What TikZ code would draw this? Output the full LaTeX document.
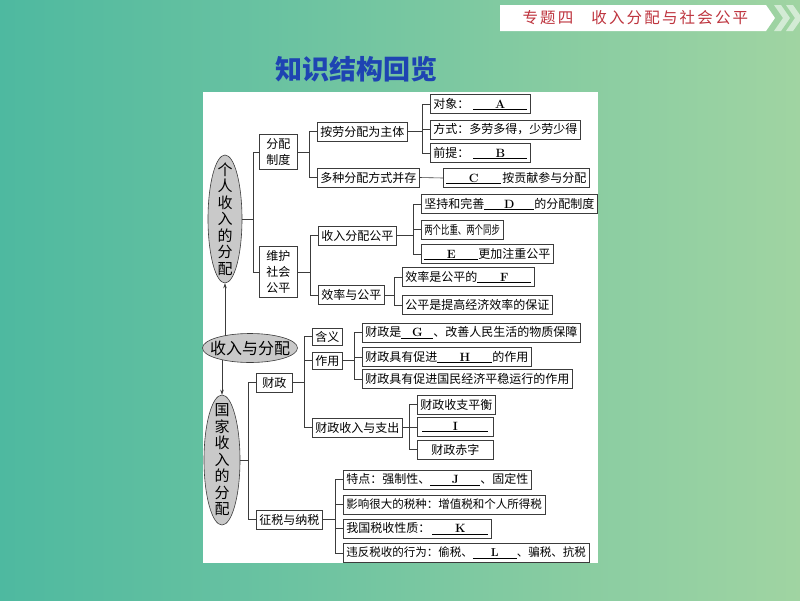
\documentclass[tikz,border=0pt]{standalone}
\usepackage{fontspec}
\usepackage{graphicx}
\newfontfamily\cjk{Noto Sans CJK SC}
\usetikzlibrary{shapes.geometric,arrows.meta}

\definecolor{bgleft}{RGB}{78,185,160}
\definecolor{bgright}{RGB}{160,212,162}
\definecolor{topicred}{RGB}{190,52,62}
\definecolor{titleblue}{RGB}{30,68,178}
\definecolor{linegray}{RGB}{60,60,60}

% underlined blank with its letter
\newcommand{\fillin}[2]{\underline{\makebox[#1]{\normalfont\bfseries #2}}}

\tikzset{
  box/.style={draw=linegray, line width=0.6pt, fill=white, anchor=west,
    inner xsep=3pt, inner ysep=0pt, minimum height=19pt,
    font=\cjk\fontsize{12}{16}\selectfont},
  oval/.style={ellipse, draw=linegray, line width=0.6pt, fill=gray!42, inner sep=0pt},
  ovaltext/.style={align=center, font=\cjk\fontsize{15}{16.5}\selectfont},
  link/.style={draw=linegray, line width=0.6pt},
}

\begin{document}
\begin{tikzpicture}[x=1pt,y=-1pt]
        \useasboundingbox (0,0) rectangle (800,600);
        \shade[left color=bgleft, right color=bgright] (0,0) rectangle (800,600);

        % banner
        \fill[white] (500,5) -- (766,5) -- (775,18) -- (766,31) -- (500,31) -- cycle;
        \fill[white, opacity=0.55] (774,5) -- (781,5) -- (790,18) -- (781,31) -- (774,31) -- (783,18) -- cycle;
        \fill[white, opacity=0.55] (786,5) -- (793,5) -- (800,15) -- (800,21) -- (793,31) -- (786,31) -- (795,18) -- cycle;
        \node[anchor=west, text=topicred, font=\cjk\fontsize{15.5}{18}\selectfont] (topic) at (519,18)
                {\addfontfeatures{LetterSpace=14}专题四\hspace{18pt}收入分配与社会公平};

        \node[text=titleblue, font=\cjk\bfseries\fontsize{27}{30}\selectfont] (title) at (356,69) {知识结构回览};

        \fill[white] (203,92) rectangle (598,563);

        % ovals
        \node[oval, minimum width=34pt, minimum height=128pt,
              label={[ovaltext]center:个\\人\\收\\入\\的\\分\\配}] (grsr) at (225,219) {};
        \node[oval, minimum width=95pt, minimum height=29pt,
              label={[ovaltext, font=\cjk\fontsize{16}{18}\selectfont]center:收入与分配}] (srfp) at (250,348) {};
        \node[oval, minimum width=36pt, minimum height=130pt,
              label={[ovaltext]center:国\\家\\收\\入\\的\\分\\配}] (gjsr) at (222,460) {};

        \draw[link, -{Stealth[length=5pt, width=3.5pt]}] ([yshift=-3pt]grsr.south |- srfp.north) -- (grsr.south);
        \draw[link, -{Stealth[length=5pt, width=3.5pt]}] ([yshift=3pt]gjsr.north |- srfp.south) -- (gjsr.north);

        % personal income
        \node[box, minimum width=38pt, minimum height=35pt, align=center] (fpzd) at (259,152) {分配\\制度};
        \node[box, minimum width=38pt, minimum height=51pt, align=center] (whgp) at (259,272) {维护\\社会\\公平};
        \node[box] (abfp) at (317,131.5) {按劳分配为主体};
        \node[box] (dzfp) at (317,177.5) {多种分配方式并存};
        \node[box] (dx) at (430,104) {对象：\hspace{4pt}\fillin{54pt}{A}};
        \node[box] (fs) at (430,129.5) {方式：多劳多得，少劳少得};
        \node[box] (qt) at (430,153) {前提：\hspace{4pt}\fillin{54pt}{B}};
        \node[box] (gx) at (443,178) {\fillin{55pt}{C}\hspace{1pt}按贡献参与分配};
        \node[box] (srgp) at (318,235.5) {收入分配公平};
        \node[box] (xlgp) at (318,295) {效率与公平};
        \node[box] (jc) at (421,204) {坚持和完善\fillin{50pt}{D}的分配制度};
        \node[box] (lg) at (421,229.5) {\scalebox{0.7}[1]{两个比重、两个同步}};
        \node[box] (zz) at (421,254) {\fillin{54pt}{E}更加注重公平};
        \node[box] (xs) at (402,277) {效率是公平的\fillin{54pt}{F}};
        \node[box] (bz) at (402,305) {公平是提高经济效率的保证};

        \foreach \t in {fpzd,whgp} \draw[link] (grsr.east) -| ([xshift=-6pt]\t.west) -- (\t.west);
        \foreach \t in {abfp,dzfp} \draw[link] (fpzd.east) -| ([xshift=-8pt]\t.west) -- (\t.west);
        \foreach \t in {dx,fs,qt} \draw[link] (abfp.east) -| ([xshift=-8pt]\t.west) -- (\t.west);
        \draw[link] (dzfp.east) -- (gx.west);
        \foreach \t in {srgp,xlgp} \draw[link] (whgp.east) -| ([xshift=-8pt]\t.west) -- (\t.west);
        \foreach \t in {jc,lg,zz} \draw[link] (srgp.east) -| ([xshift=-8pt]\t.west) -- (\t.west);
        \foreach \t in {xs,bz} \draw[link] (xlgp.east) -| ([xshift=-8pt]\t.west) -- (\t.west);

        % state income
        \node[box, minimum width=36pt] (cz) at (256,382.5) {财政};
        \node[box] (zsns) at (256,519.5) {征税与纳税};
        \node[box, minimum height=17pt] (hy) at (312,336.5) {含义};
        \node[box, minimum height=17pt] (zy) at (312,360.5) {作用};
        \node[box] (szzc) at (312,427.5) {财政收入与支出};
        \node[box] (wz) at (362,332.5) {财政是\fillin{32pt}{G}、改善人民生活的物质保障};
        \node[box] (hz) at (362,357) {财政具有促进\fillin{55pt}{H}的作用};
        \node[box] (pw) at (362,379) {财政具有促进国民经济平稳运行的作用};
        \node[box, minimum width=76pt] (ph) at (417,404.5) {财政收支平衡};
        \node[box, minimum width=76pt] (ii) at (417,427) {\fillin{66pt}{I}};
        \node[box, minimum width=76pt] (cz2) at (417,449.5) {财政赤字};
        \node[box] (td) at (343,479.5) {特点：强制性、\fillin{50pt}{J}、固定性};
        \node[box, font=\cjk\fontsize{11.5}{16}\selectfont] (sz) at (343,504.5) {影响很大的税种：增值税和个人所得税};
        \node[box] (xz) at (343,528.5) {我国税收性质：\hspace{2pt}\fillin{56pt}{K}};
        \node[box, font=\cjk\fontsize{11.5}{16}\selectfont] (wf) at (343,553) {违反税收的行为：偷税、\fillin{44pt}{L}、骗税、抗税};

        \foreach \t in {cz,zsns} \draw[link] (gjsr.east) -| ([xshift=-8pt]\t.west) -- (\t.west);
        \foreach \t in {hy,zy,szzc} \draw[link] (cz.east) -| ([xshift=-8pt]\t.west) -- (\t.west);
        \foreach \t in {wz,hz,pw} \draw[link] (zy.east) -| ([xshift=-8pt]\t.west) -- (\t.west);
        \foreach \t in {ph,ii,cz2} \draw[link] (szzc.east) -| ([xshift=-8pt]\t.west) -- (\t.west);
        \foreach \t in {td,sz,xz,wf} \draw[link] (zsns.east) -| ([xshift=-8pt]\t.west) -- (\t.west);

\end{tikzpicture}
\end{document}
